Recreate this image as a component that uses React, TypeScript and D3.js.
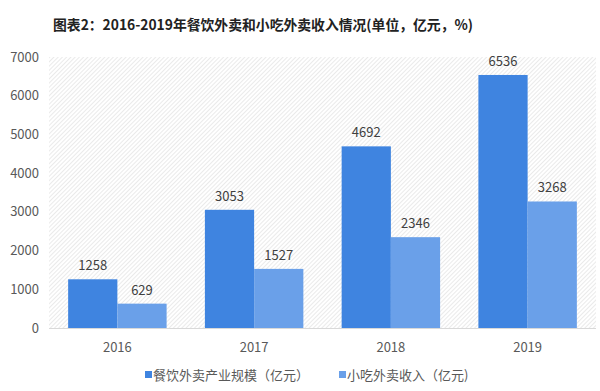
import * as d3 from 'd3'
import { useEffect, useRef } from "react";

const years = ['2016', '2017', '2018', '2019']
const industrySize = [1258, 3053, 4692, 6536]
const snackIncome = [629, 1527, 2346, 3268]
const seriesNames = ['餐饮外卖产业规模（亿元）', '小吃外卖收入（亿元)']
const yTicks = [0, 1000, 2000, 3000, 4000, 5000, 6000, 7000]
const title = '图表2：2016-2019年餐饮外卖和小吃外卖收入情况(单位，亿元，%)'

const colors = ['#3f84e0', '#6aa0e9']
const font = '"Noto Sans CJK SC", "Microsoft YaHei", sans-serif'

const App = () => {
  const svgRef = useRef(null);

  useEffect(() => {
    const svg = d3.select(svgRef.current);
    svg.selectAll('*').remove();

    const left = 49, right = 596, top = 57, bottom = 328;

    const x = d3.scaleBand().domain(years).range([left, right]).paddingInner(0.28).paddingOuter(0.14)
    const xSub = d3.scaleBand().domain(['a', 'b']).range([0, x.bandwidth()])
    const y = d3.scaleLinear().domain([0, 7000]).range([bottom, top])

    // hatch background
    const defs = svg.append('defs')
    const pat = defs.append('pattern')
      .attr('id', 'hatch')
      .attr('patternUnits', 'userSpaceOnUse')
      .attr('width', 3).attr('height', 3)
      .attr('patternTransform', 'rotate(45)')
    pat.append('rect').attr('width', 3).attr('height', 3).attr('fill', '#ffffff')
    pat.append('line').attr('x1', 0).attr('y1', 0).attr('x2', 0).attr('y2', 3)
      .attr('stroke', '#d6d6d6').attr('stroke-width', 1)

    svg.append('rect')
      .attr('x', left).attr('y', top)
      .attr('width', right - left).attr('height', bottom - top)
      .attr('fill', 'url(#hatch)')

    svg.append('text')
      .attr('x', 53).attr('y', 30)
      .attr('font-family', font).attr('font-size', 14).attr('font-weight', 'bold')
      .attr('fill', '#222')
      .attr('textLength', 420).attr('lengthAdjust', 'spacingAndGlyphs')
      .text(title)

    // y labels
    svg.selectAll('.ytick')
      .data(yTicks)
      .enter()
      .append('text')
      .attr('x', 39)
      .attr('y', d => y(d) + 4.5)
      .attr('text-anchor', 'end')
      .attr('font-family', font).attr('font-size', 13)
      .attr('fill', '#595959')
      .text(d => d)

    // baseline
    svg.append('line')
      .attr('x1', left).attr('x2', right)
      .attr('y1', bottom + 0.5).attr('y2', bottom + 0.5)
      .attr('stroke', '#d9d9d9')

    const series = [industrySize, snackIncome]
    series.forEach((vals, si) => {
      const key = si === 0 ? 'a' : 'b'
      svg.selectAll('.bar' + si)
        .data(vals)
        .enter()
        .append('rect')
        .attr('x', (d, i) => x(years[i]) + xSub(key))
        .attr('y', d => y(d))
        .attr('width', xSub.bandwidth())
        .attr('height', d => bottom - y(d))
        .attr('fill', colors[si])

      svg.selectAll('.lbl' + si)
        .data(vals)
        .enter()
        .append('text')
        .attr('x', (d, i) => x(years[i]) + xSub(key) + xSub.bandwidth() / 2)
        .attr('y', d => y(d) - 9)
        .attr('text-anchor', 'middle')
        .attr('font-family', font).attr('font-size', 13)
        .attr('fill', '#404040')
        .text(d => d)
    })

    // x labels
    svg.selectAll('.xtick')
      .data(years)
      .enter()
      .append('text')
      .attr('x', d => x(d) + x.bandwidth() / 2)
      .attr('y', 352)
      .attr('text-anchor', 'middle')
      .attr('font-family', font).attr('font-size', 13)
      .attr('fill', '#595959')
      .text(d => d)

    // legend
    const legendX = [145, 339]
    seriesNames.forEach((name, i) => {
      svg.append('rect')
        .attr('x', legendX[i]).attr('y', 371)
        .attr('width', 7).attr('height', 7)
        .attr('fill', colors[i])
      svg.append('text')
        .attr('x', legendX[i] + 8).attr('y', 380)
        .attr('font-family', font).attr('font-size', 13)
        .attr('fill', '#595959')
        .text(name)
    })
  }, []);

  return (
    <svg ref={svgRef} width={600} height={391}
      style={{ position: 'absolute', left: 0, top: 0, background: '#fff' }}>
    </svg>
  );
};

export default App;
